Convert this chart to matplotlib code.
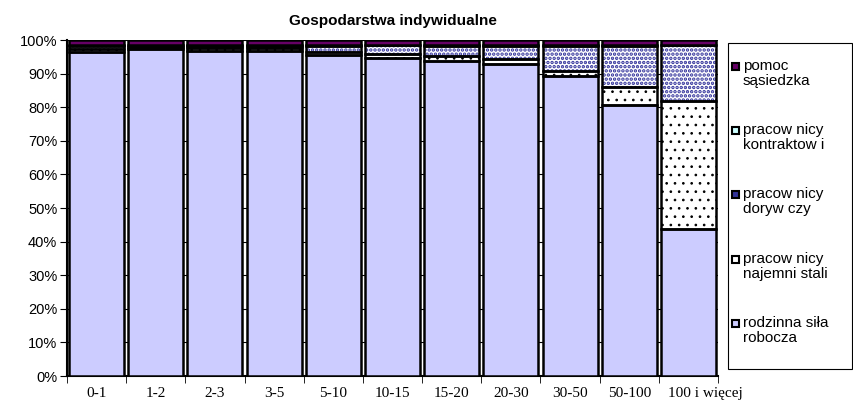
import numpy as np
import matplotlib
matplotlib.use("Agg")
import matplotlib.pyplot as plt
from matplotlib.patches import Rectangle
from matplotlib.transforms import ScaledTranslation

categories = ['0-1', '1-2', '2-3', '3-5', '5-10', '10-15', '15-20', '20-30', '30-50', '50-100', '100 i więcej']
rodzinna = [96.4, 97.3, 96.8, 96.8, 95.5, 94.6, 93.8, 92.9, 89.3, 80.7, 43.8]
najemni = [1.0, 0.6, 0.8, 0.8, 1.0, 1.2, 1.5, 1.3, 1.6, 5.4, 38.0]
dorywczy = [0.7, 0.5, 0.6, 0.6, 1.8, 2.6, 3.0, 4.0, 7.3, 12.1, 16.6]
kontraktowi = [0.3, 0.2, 0.3, 0.3, 0.2, 0.2, 0.2, 0.3, 0.3, 0.3, 0.2]
pomoc = [1.6, 1.4, 1.5, 1.5, 1.5, 1.4, 1.5, 1.5, 1.5, 1.5, 1.4]

legend_labels = ['pomoc\nsąsiedzka', 'pracow nicy\nkontraktow i', 'pracow nicy\ndoryw czy',
                 'pracow nicy\nnajemni stali', 'rodzinna siła\nrobocza']
legend_colors = ['#660066', '#CCFFFF', '#333399', 'white', '#CCCCFF']

plt.rcParams['font.family'] = ['Liberation Sans', 'DejaVu Sans']

W, H = 854, 403
fig = plt.figure(figsize=(W / 100, H / 100), dpi=100)
ax = fig.add_axes([67 / W, 1 - 376 / H, (718 - 67) / W, (376 - 40) / H])

x = np.arange(len(categories))
w = 0.93
# (values, facecolor, hatch, hatch colour, hatch linewidth)
series = [
    (rodzinna, '#CCCCFF', None, None, 1.0),
    (najemni, 'white', '..', 'black', 0.7),
    (dorywczy, 'white', '....', '#2E2E99', 1.7),
    (kontraktowi, '#CCFFFF', None, None, 1.0),
    (pomoc, '#660066', None, None, 1.0),
]
bottom = np.zeros(len(categories))
for vals, fc, hatch, hc, hlw in series:
    vals = np.array(vals)
    if hatch:
        with plt.rc_context({'hatch.linewidth': hlw}):
            ax.bar(x, vals, w, bottom=bottom, facecolor=fc, hatch=hatch, edgecolor=hc,
                   linewidth=0, zorder=2)
        ax.bar(x, vals, w, bottom=bottom, fill=False, edgecolor='black', linewidth=1.8, zorder=3)
    else:
        ax.bar(x, vals, w, bottom=bottom, color=fc, edgecolor='black', linewidth=1.8, zorder=3)
    bottom += vals

ax.set_xlim(-0.5, len(categories) - 0.5)
ax.set_ylim(0, 100)
ax.set_yticks(np.arange(0, 101, 10))
ax.set_yticklabels([f'{v}%' for v in range(0, 101, 10)], fontsize=10.5)
ax.yaxis.grid(True, color='black', linewidth=0.8, zorder=0)
ax.set_axisbelow(True)
ax.set_xticks(x)
ax.set_xticklabels(categories, fontsize=11, family=['Liberation Serif'])
ax.set_xticks(np.arange(-0.5, len(categories), 1), minor=True)
ax.tick_params(axis='x', which='major', length=0, pad=8)
ax.tick_params(axis='x', which='minor', length=5, direction='out')
ax.tick_params(axis='y', length=5, direction='out', pad=2)
# last label sits a little to the right, like in the original
last = ax.get_xticklabels()[-1]
last.set_transform(last.get_transform() + ScaledTranslation(17 / 100, 0, fig.dpi_scale_trans))
for s in ['top', 'right']:
    ax.spines[s].set_visible(False)
ax.spines['left'].set_linewidth(1.5)
ax.spines['bottom'].set_linewidth(1.5)

ax.set_title('Gospodarstwa indywidualne', fontsize=11, fontweight='bold', pad=11)

# legend drawn by hand so the swatch lines up with the first text line
fig.add_artist(Rectangle((728 / W, 1 - 369 / H), (852 - 728) / W, (369 - 43) / H,
                         transform=fig.transFigure, fill=False, edgecolor='black', linewidth=0.8))
for i, (lab, col) in enumerate(zip(legend_labels, legend_colors)):
    yc = 66 + i * 64.2
    fig.add_artist(Rectangle((732 / W, 1 - (yc + 4) / H), 7 / W, 7 / H, transform=fig.transFigure,
                             facecolor=col, edgecolor='black', linewidth=1.5))
    fig.text(743 / W, 1 - (yc - 7) / H, lab, fontsize=11, va='top', ha='left', linespacing=1.1)

fig.savefig('out.png', dpi=100)
